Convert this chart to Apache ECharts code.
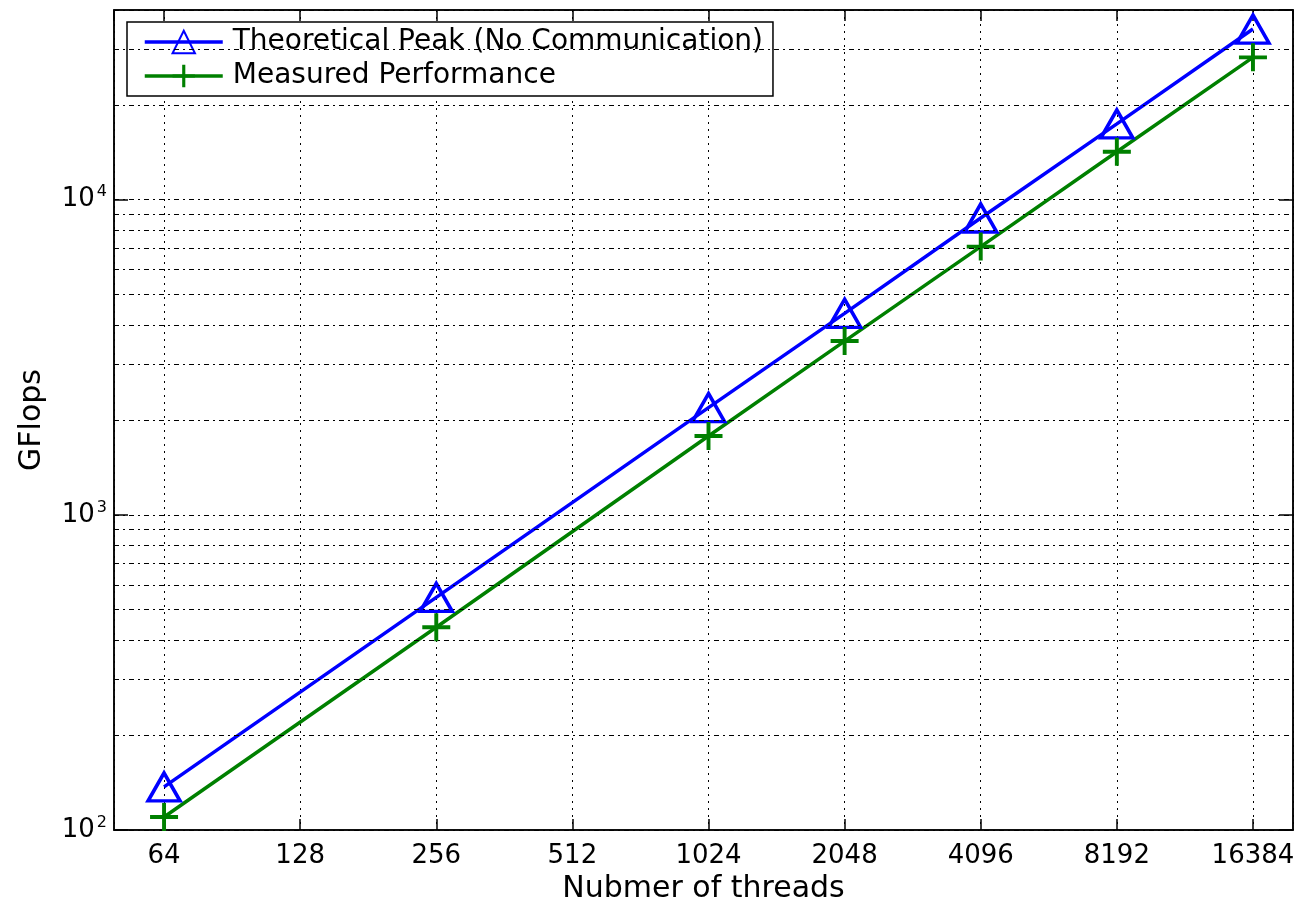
<!DOCTYPE html>
<html>
<head>
<meta charset="utf-8">
<script src="https://cdn.jsdelivr.net/npm/echarts@6/dist/echarts.min.js"></script>
<style>
  html, body { margin: 0; padding: 0; background: #fff; }
  #chart { width: 1301px; height: 900px; }
</style>
</head>
<body>
<div id="chart"></div>
<script>
// data
const threads = [64, 256, 1024, 2048, 4096, 8192, 16384]
const theoreticalPeak = [137, 547, 2190, 4360, 8750, 17400, 34800]
const measured = [110, 440, 1780, 3560, 7100, 14200, 28300]

// axis ranges and the dotted minor grid rows
const xRange = [49.6, 20090]
const yRange = [100, 40000]
const minorGridY = [200, 300, 400, 500, 600, 700, 800, 900,
  2000, 3000, 4000, 5000, 6000, 7000, 8000, 9000, 20000, 30000]

const FONT = 'DejaVu Sans'
const FS = 26      // tick labels
const FS_NAME = 30 // axis titles
const gridDash = [5, 4, 2, 4]

const chart = echarts.init(document.getElementById('chart'))

const baseX = {
  type: 'log',
  logBase: 2,
  min: xRange[0],
  max: xRange[1],
  axisLine: { show: true, lineStyle: { color: '#000', width: 1.5 } },
  axisTick: { show: true, inside: true, length: 11, lineStyle: { color: '#000', width: 1.5 } },
  axisLabel: { show: false },
  splitLine: { show: false },
  minorTick: { show: false }
}
const baseY = {
  type: 'log',
  logBase: 10,
  min: yRange[0],
  max: yRange[1],
  axisLine: { show: true, lineStyle: { color: '#000', width: 1.5 } },
  axisTick: { show: true, inside: true, length: 14, lineStyle: { color: '#000', width: 1.5 } },
  axisLabel: { show: false },
  splitLine: { show: false }
}

const option = {
  backgroundColor: '#fff',
  animation: false,
  grid: {
    left: 114, right: 8, top: 10, bottom: 70,
    outerBoundsMode: 'none',
    containLabel: false,
    show: true, borderColor: '#000', borderWidth: 1.5, backgroundColor: '#fff'
  },
  legend: {
    data: ['Theoretical Peak (No Communication)', 'Measured Performance'],
    orient: 'vertical',
    left: 127,
    top: 22,
    padding: [6, 10, 6, 16],
    itemGap: 6,
    itemWidth: 78,
    itemHeight: 28,
    backgroundColor: '#fff',
    borderColor: '#000',
    borderWidth: 1.5,
    lineStyle: { width: 3.5 },
    textStyle: { fontFamily: FONT, fontSize: 28, color: '#000', padding: [0, 0, 0, 5] }
  },
  xAxis: [
    Object.assign({}, baseX, {
      position: 'bottom',
      name: 'Nubmer of threads',
      nameLocation: 'middle',
      nameGap: 40,
      nameTextStyle: { fontFamily: FONT, fontSize: FS_NAME, color: '#000' },
      axisLabel: {
        show: true, showMinLabel: false, showMaxLabel: false,
        margin: 13, fontFamily: FONT, fontSize: FS, color: '#000',
        formatter: v => String(Math.round(v))
      },
      splitLine: { show: true, lineStyle: { color: '#000', width: 1, type: [2, 5] } }
    }),
    Object.assign({}, baseX, { position: 'top' })
  ],
  yAxis: [
    Object.assign({}, baseY, {
      position: 'left',
      name: 'GFlops',
      nameLocation: 'middle',
      nameGap: 67,
      nameTextStyle: { fontFamily: FONT, fontSize: FS_NAME, color: '#000' },
      axisLabel: {
        show: true, showMinLabel: true, showMaxLabel: false,
        margin: 7, color: '#000',
        formatter: v => '10{sup|' + Math.round(Math.log10(v)) + '}',
        rich: {
          sup: { fontFamily: FONT, fontSize: 16, color: '#000', padding: [0, 0, 15, 2] }
        },
        fontFamily: FONT, fontSize: FS
      },
      splitLine: { show: true, lineStyle: { color: '#000', width: 1, type: gridDash } }
    }),
    Object.assign({}, baseY, { position: 'right' })
  ],
  series: [
    {
      name: 'minor grid',
      type: 'line',
      data: [],
      z: 1,
      markLine: {
        silent: true,
        symbol: 'none',
        label: { show: false },
        lineStyle: { color: '#000', width: 1, type: gridDash },
        data: minorGridY.map(v => ({ yAxis: v }))
      }
    },
    {
      name: 'Theoretical Peak (No Communication)',
      type: 'line',
      z: 3,
      data: threads.map((t, i) => [t, theoreticalPeak[i]]),
      symbol: 'triangle',
      symbolSize: [32, 28],
      lineStyle: { color: '#0000ff', width: 3.5 },
      itemStyle: { color: 'rgba(255,255,255,0)', borderColor: '#0000ff', borderWidth: 3.5 }
    },
    {
      name: 'Measured Performance',
      type: 'line',
      z: 3,
      data: threads.map((t, i) => [t, measured[i]]),
      symbol: 'path://M0,4.3H4.3V0H5.7V4.3H10V5.7H5.7V10H4.3V5.7H0Z',
      symbolSize: 28,
      lineStyle: { color: '#008000', width: 3.5 },
      itemStyle: { color: '#008000' }
    }
  ]
}

chart.setOption(option)
</script>
</body>
</html>
